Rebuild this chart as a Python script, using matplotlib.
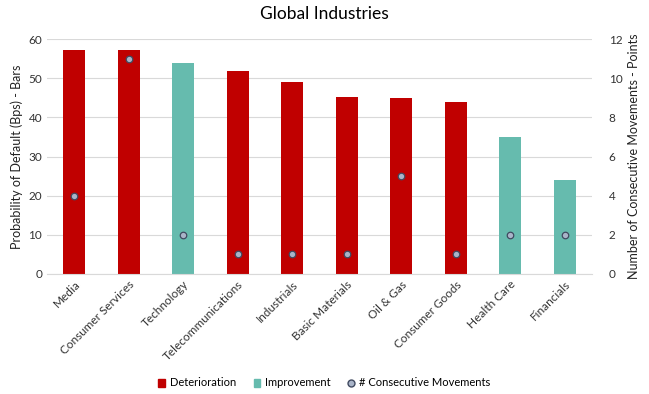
import matplotlib
matplotlib.use("Agg")
import matplotlib.pyplot as plt
from matplotlib.lines import Line2D
from matplotlib.patches import Patch

categories = ["Media", "Consumer Services", "Technology", "Telecommunications", "Industrials",
              "Basic Materials", "Oil & Gas", "Consumer Goods", "Health Care", "Financials"]
pd_values = [57.2, 57.2, 53.9, 51.8, 49.0, 45.2, 44.9, 43.9, 35.0, 24.0]
status = ["Deterioration", "Deterioration", "Improvement", "Deterioration", "Deterioration",
          "Deterioration", "Deterioration", "Deterioration", "Improvement", "Improvement"]
consecutive = [4, 11, 2, 1, 1, 1, 5, 1, 2, 2]

plt.rcParams['font.family'] = ['Lato', 'DejaVu Sans']
RED = "#C00000"
TEAL = "#66BBAE"
colors = {"Deterioration": RED, "Improvement": TEAL}

fig = plt.figure(figsize=(6.49, 3.94), dpi=100)
ax = fig.add_axes([47/649, 1 - 274/394, (592-47)/649, (274-39)/394])
x = list(range(len(categories)))
ax.bar(x, pd_values, width=0.4, color=[colors[s] for s in status], zorder=2)
ax.set_ylim(0, 60)
ax.set_xlim(-0.5, len(categories) - 0.5)
ax.set_yticks(range(0, 61, 10))
ax.grid(axis='y', color='#D9D9D9', linewidth=0.8, zorder=0)
for s in ['top', 'right', 'left']:
    ax.spines[s].set_visible(False)
ax.spines['bottom'].set_color('#D9D9D9')
ax.tick_params(axis='both', length=0, labelsize=8.5, colors='#333333')
ax.set_xticks(x)
ax.set_xticklabels(categories, rotation=45, ha='right', rotation_mode='anchor', fontsize=8.5)
ax.set_ylabel("Probability of Default (Bps) - Bars", fontsize=9, color='#222222')

ax2 = ax.twinx()
ax2.set_ylim(0, 12)
ax2.set_yticks(range(0, 13, 2))
ax2.scatter(x, consecutive, s=22, color='#A9B4C8', edgecolors='#404A60', linewidths=0.9, zorder=3)
for s in ['top', 'right', 'left', 'bottom']:
    ax2.spines[s].set_visible(False)
ax2.tick_params(axis='y', length=0, labelsize=8.5, colors='#333333', pad=12)
ax2.set_ylabel("Number of Consecutive Movements - Points", fontsize=9, color='#222222')

fig.suptitle("Global Industries", y=0.985, fontsize=12.5)

handles = [Patch(color=RED, label="Deterioration"),
           Patch(color=TEAL, label="Improvement"),
           Line2D([], [], marker='o', linestyle='none', markerfacecolor='#A9B4C8',
                  markeredgecolor='#404A60', markersize=5, label="# Consecutive Movements")]
fig.legend(handles=handles, loc='center', bbox_to_anchor=(0.5, 1 - 383/394), ncol=3,
           frameon=False, fontsize=8, handlelength=0.6, handleheight=0.7,
           columnspacing=1.6, handletextpad=0.4)

fig.savefig("out.png", dpi=100)
